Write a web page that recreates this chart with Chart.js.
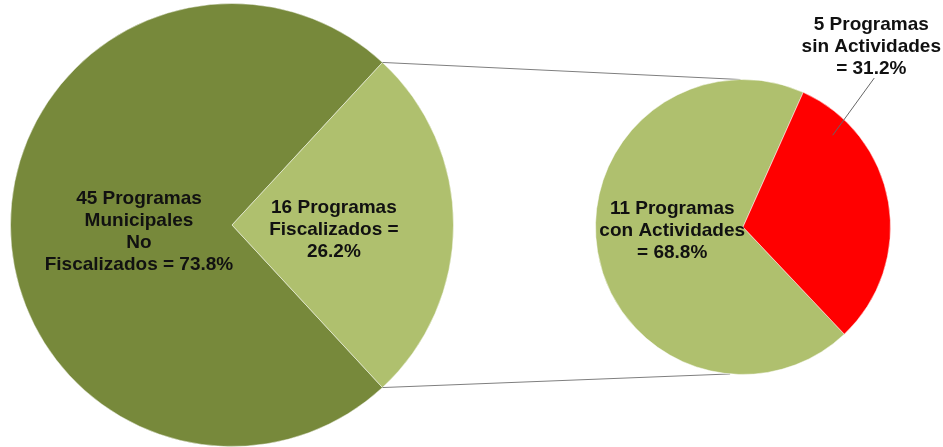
<!DOCTYPE html>
<html>
<head>
<meta charset="utf-8">
<script src="https://cdn.jsdelivr.net/npm/chart.js@4"></script>
<style>
    body { margin: 0; background: #fff; }
    #wrap { position: relative; width: 943px; height: 447px; }
    canvas { position: absolute; }
</style>
</head>
<body>
<div id="wrap">
    <canvas id="ChartLeft" width="943" height="447" style="left:0;top:0"></canvas>
    <canvas id="ChartRight" width="383" height="447" style="left:560px;top:0"></canvas>
</div>
<script>
// main pie
const leftLabels = ['Programas Municipales No Fiscalizados', 'Programas Fiscalizados'];
const leftValues = [45, 16];
const leftText = [
    ['45 Programas', 'Municipales', 'No', 'Fiscalizados = 73.8%'],
    ['16 Programas', 'Fiscalizados =', '26.2%']
];

// secondary pie (breakdown of the 16 fiscalizados)
const rightLabels = ['Programas con Actividades', 'Programas sin Actividades'];
const rightValues = [11, 5];
const rightText = [
    ['11 Programas', 'con Actividades', '= 68.8%'],
    ['5 Programas', 'sin Actividades', '= 31.2%']
];

const labelFont = 'bold 19px "Liberation Sans", Arial, sans-serif';
const lineHeight = 22;

const leftCanvas = document.getElementById('ChartLeft');
const rightCanvas = document.getElementById('ChartRight');

function drawLines(ctx, lines, x, y) {
    lines.forEach((line, k) => ctx.fillText(line, x, y + k * lineHeight));
}

const sliceLabels = {
    id: 'sliceLabels',
    afterDatasetsDraw(chart, args, opts) {
        const ctx = chart.ctx;
        const arcs = chart.getDatasetMeta(0).data;
        ctx.save();
        ctx.font = labelFont;
        ctx.fillStyle = '#111';
        ctx.textAlign = 'center';
        ctx.textBaseline = 'middle';
        arcs.forEach((arc, i) => {
            const lines = opts.text[i];
            const p = opts.pos[i];
            const r = arc.outerRadius;
            if (p.leader) {
                const a = arc.startAngle + (arc.endAngle - arc.startAngle) * p.leader[0];
                const sx = arc.x + Math.cos(a) * r * p.leader[1];
                const sy = arc.y + Math.sin(a) * r * p.leader[1];
                const ex = arc.x + p.anchor[0] * r;
                const ey = arc.y + p.anchor[1] * r;
                ctx.beginPath();
                ctx.strokeStyle = '#666';
                ctx.lineWidth = 1;
                ctx.moveTo(sx, sy);
                ctx.lineTo(ex, ey);
                ctx.stroke();
                const top = ey - 9 - (lines.length - 1) * lineHeight;
                drawLines(ctx, lines, ex - 3, top);
            } else {
                const cx = arc.x + p[0] * r;
                const cy = arc.y + p[1] * r - (lines.length - 1) * lineHeight / 2;
                drawLines(ctx, lines, cx, cy);
            }
        });
        ctx.restore();
    }
};

const rightChart = new Chart(rightCanvas, {
    type: 'pie',
    data: {
        labels: rightLabels,
        datasets: [{
            data: rightValues,
            backgroundColor: ['#afc06e', '#ff0000'],
            borderColor: 'rgba(255,255,255,0.5)',
            borderWidth: 1
        }]
    },
    options: {
        responsive: false,
        animation: false,
        rotation: 136.6,
        layout: { padding: { left: 35, top: 79, right: 52, bottom: 72 } },
        plugins: {
            legend: { display: false },
            tooltip: { enabled: false },
            sliceLabels: {
                text: rightText,
                pos: [[-0.48, 0.025], { leader: [0.18, 0.87], anchor: [0.89, -1.01] }]
            }
        }
    },
    plugins: [sliceLabels]
});

const connector = {
    id: 'connector',
    afterDatasetsDraw(chart) {
        const arc = chart.getDatasetMeta(0).data[1];
        const other = rightChart.getDatasetMeta(0).data[0];
        const ox = other.x + rightCanvas.offsetLeft - leftCanvas.offsetLeft;
        const oy = other.y + rightCanvas.offsetTop - leftCanvas.offsetTop;
        const orad = other.outerRadius;
        const r = arc.outerRadius;
        const ctx = chart.ctx;
        const topA = -91 * Math.PI / 180;
        const botA = 95 * Math.PI / 180;
        ctx.save();
        ctx.strokeStyle = '#7f7f7f';
        ctx.lineWidth = 1;
        ctx.beginPath();
        ctx.moveTo(arc.x + Math.cos(arc.startAngle) * r, arc.y + Math.sin(arc.startAngle) * r);
        ctx.lineTo(ox + Math.cos(topA) * orad, oy + Math.sin(topA) * orad);
        ctx.moveTo(arc.x + Math.cos(arc.endAngle) * r, arc.y + Math.sin(arc.endAngle) * r);
        ctx.lineTo(ox + Math.cos(botA) * orad, oy + Math.sin(botA) * orad);
        ctx.stroke();
        ctx.restore();
    }
};

const leftTotal = leftValues[0] + leftValues[1];
new Chart(leftCanvas, {
    type: 'pie',
    data: {
        labels: leftLabels,
        datasets: [{
            data: leftValues,
            backgroundColor: ['#77893b', '#afc06e'],
            borderColor: 'rgba(255,255,255,0.45)',
            borderWidth: 1
        }]
    },
    options: {
        responsive: false,
        animation: false,
        // second slice centred on the right side, facing the small pie
        rotation: 90 + 180 * leftValues[1] / leftTotal,
        layout: { padding: { left: 10, top: 3, right: 489, bottom: 0 } },
        plugins: {
            legend: { display: false },
            tooltip: { enabled: false },
            sliceLabels: {
                text: leftText,
                pos: [[-0.42, 0.03], [0.46, 0.02]]
            }
        }
    },
    plugins: [connector, sliceLabels]
});
</script>
</body>
</html>
